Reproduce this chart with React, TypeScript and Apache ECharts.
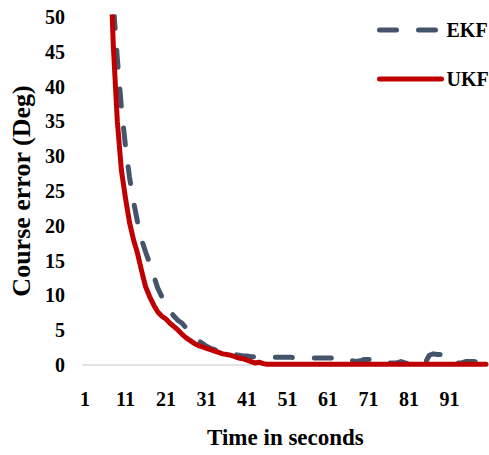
import React, { useEffect, useRef } from "react";
import * as echarts from "echarts";

const categories: string[] = Array.from({ length: 100 }, (_, i) => String(i + 1));

// EKF course error (deg), index 0 = second 1
const ekfValues: (number | null)[] = [
  null, null, null, null, null, null, 62, 52, 44, 37,
  31.5, 27, 23.5, 20.5, 18, 16.2, 14.6, 12.8, 11, 9.8,
  8.6, 7.7, 7, 6.4, 6, 5.3, 4.6, 4, 3.5, 3.1,
  2.7, 2.4, 2.2, 2, 1.8, 1.7, 1.6, 1.5, 1.4, 1.3,
  1.3, 1.2, 1.2, 1.2, 1.1, 1.1, 1.1, 1.1, 1.1, 1.1,
  1.1, 1.1, 1.0, 1.0, 1.0, 1.0, 1.0, 1.0, 1.0, 1.0,
  1.0, 1.0, 1.0, 1.0, 1.0, 1.0, 0.6, 0.5, 0.6, 0.8,
  0.8, 0.7, 0.3, 0.3, 0.3, 0.3, 0.3, 0.3, 0.5, 0.3,
  0.2, 0.5, 0.3, 0.3, 0.3, 1.4, 1.6, 1.5, 1.5, 1.4,
  1.3, 0.4, 0.3, 0.3, 0.5, 0.5, 0.5, 0.4, 0.3, 0.3,
];

// UKF course error (deg)
const ukfValues: (number | null)[] = [
  null, null, null, null, null, null, 62, 46, 35, 28,
  24, 20.5, 18, 16, 13.5, 11.2, 9.8, 8.6, 7.6, 7,
  6.6, 6, 5.5, 5, 4.4, 3.9, 3.5, 3.1, 2.8, 2.6,
  2.4, 2.2, 2, 1.8, 1.6, 1.5, 1.4, 1.2, 1.0, 0.9,
  0.7, 0.5, 0.3, 0.4, 0.2, 0.1, 0.1, 0.1, 0.1, 0.1,
  0.1, 0.1, 0.1, 0.1, 0.1, 0.1, 0.1, 0.1, 0.1, 0.1,
  0.1, 0.1, 0.1, 0.1, 0.1, 0.1, 0.1, 0.1, 0.1, 0.1,
  0.1, 0.1, 0.1, 0.1, 0.1, 0.1, 0.1, 0.1, 0.1, 0.1,
  0.1, 0.1, 0.1, 0.1, 0.1, 0.1, 0.1, 0.1, 0.1, 0.1,
  0.1, 0.1, 0.1, 0.1, 0.1, 0.1, 0.1, 0.1, 0.1, 0.1,
];

const FONT = "'Liberation Serif', 'Times New Roman', serif";

export default function App() {
  const ref = useRef<HTMLDivElement>(null);
  useEffect(() => {
    if (!ref.current) return;
    const chart = echarts.init(ref.current, undefined, { renderer: "svg" });
    chart.setOption({
      animation: false,
      backgroundColor: "#ffffff",
      grid: { left: 77, right: 1, top: 17, bottom: 90, containLabel: false },
      legend: {
        data: ["EKF", "UKF"],
        orient: "vertical",
        left: 377,
        top: 20,
        padding: 0,
        itemWidth: 62,
        itemHeight: 20,
        itemGap: 29,
        itemStyle: { opacity: 0 },
        lineStyle: { width: 5, cap: "round" },
        textStyle: { fontFamily: FONT, fontWeight: "bold", fontSize: 20, color: "#000" },
      },
      xAxis: {
        type: "category",
        data: categories,
        boundaryGap: true,
        axisLine: { show: true, lineStyle: { color: "#D9D9D9", width: 1.5 } },
        axisTick: { show: false },
        axisLabel: {
          interval: 9,
          margin: 24,
          fontFamily: FONT,
          fontWeight: "bold",
          fontSize: 20,
          color: "#000",
        },
        name: "Time in seconds",
        nameLocation: "middle",
        nameGap: 61,
        nameTextStyle: { fontFamily: FONT, fontWeight: "bold", fontSize: 23, color: "#000" },
        splitLine: { show: false },
      },
      yAxis: {
        type: "value",
        min: 0,
        max: 50,
        interval: 5,
        axisLine: { show: false },
        axisTick: { show: false },
        splitLine: { show: false },
        axisLabel: {
          margin: 18,
          fontFamily: FONT,
          fontWeight: "bold",
          fontSize: 20,
          color: "#000",
        },
        name: "Course error (Deg)",
        nameLocation: "middle",
        nameGap: 45,
        nameTextStyle: { fontFamily: FONT, fontWeight: "bold", fontSize: 26, color: "#000" },
      },
      series: [
        {
          name: "EKF",
          type: "line",
          data: ekfValues,
          symbol: "none",
          clip: true,
          connectNulls: false,
          lineStyle: { color: "#44546A", width: 5, type: [17, 22], cap: "round", join: "round" },
          itemStyle: { color: "#44546A" },
        },
        {
          name: "UKF",
          type: "line",
          data: ukfValues,
          symbol: "none",
          clip: true,
          lineStyle: { color: "#C00000", width: 5, cap: "round", join: "round" },
          itemStyle: { color: "#C00000" },
        },
      ],
    });
    return () => chart.dispose();
  }, []);
  return (
    <div
      ref={ref}
      style={{ position: "fixed", left: 0, top: 0, width: 489, height: 455, background: "#fff" }}
    />
  );
}
